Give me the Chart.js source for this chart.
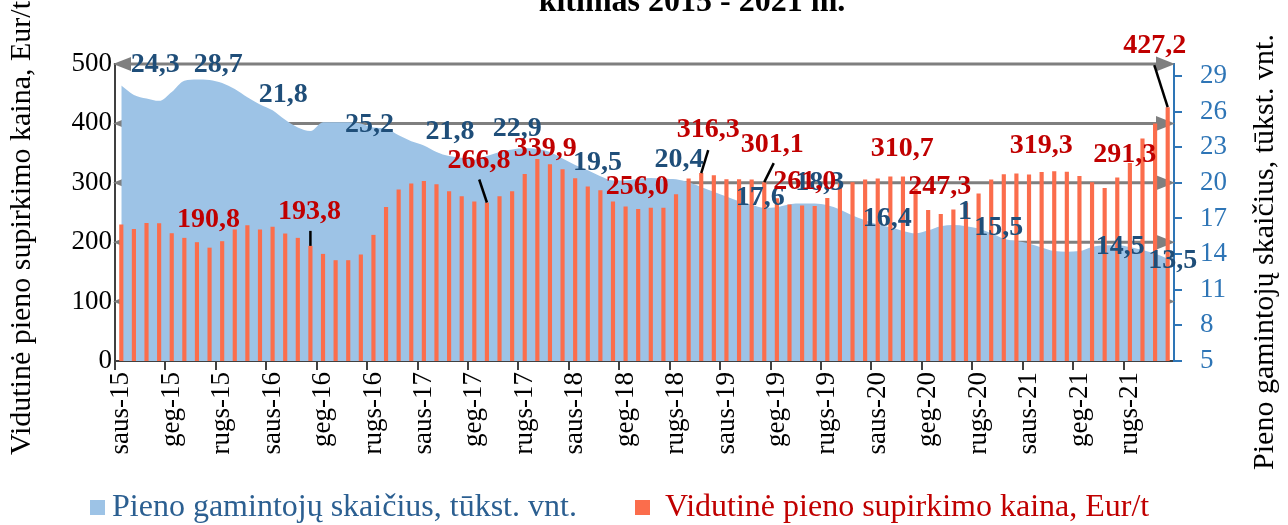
<!DOCTYPE html>
<html>
<head>
<meta charset="utf-8">
<script src="https://cdn.jsdelivr.net/npm/chart.js@4.4.0/dist/chart.umd.min.js"></script>
<style>
  html, body { margin: 0; padding: 0; background: #ffffff; }
</style>
</head>
<body>
<canvas id="chart" width="1288" height="525"></canvas>
<script>
// month names used on the category axis
const monthNames = ["saus", "vas", "kov", "bal", "geg", "birž", "liep", "rugp", "rugs", "spal", "lapkr", "gruod"];
const years = ["15", "16", "17", "18", "19", "20", "21"];
const categories = years.flatMap((y) => monthNames.map((m) => m + "-" + y));

// milk producers, thousand (right axis)
const producers = [
  28.2, 27.4, 27.1, 26.9, 27.65, 28.6, 28.7, 28.65, 28.4, 27.9, 27.2, 26.6,
  26.1, 25.3, 24.65, 24.35, 25.1, 25.1, 25.1, 25.0, 24.65, 24.55, 24.0, 23.5,
  23.15, 22.6, 22.25, 22.1, 21.95, 22.25, 22.6, 22.8, 22.9, 22.85, 22.6, 22.05,
  21.5, 21.05, 20.55, 20.2, 20.2, 20.35, 20.4, 20.35, 20.3, 20.05, 19.65, 19.25,
  18.85, 18.45, 18.15, 17.9, 17.95, 18.2, 18.25, 18.25, 18.1, 17.75, 17.25, 16.85,
  16.5, 16.25, 15.95, 15.75, 16.0, 16.35, 16.45, 16.35, 16.15, 15.75, 15.3, 15.1,
  14.9, 14.55, 14.25, 14.2, 14.25, 14.6, 14.75, 14.75, 14.6, 14.35, 14.05, 13.6
];

// average milk purchase price, Eur/t (left axis)
const prices = [
  229.8, 222.4, 232.5, 232.0, 215.1, 207.3, 200.0, 190.8, 201.7, 221.4, 228.6, 221.4,
  225.8, 214.6, 207.3, 193.8, 180.3, 169.7, 169.7, 179.3, 212.3, 259.4, 288.7, 298.8,
  303.2, 297.6, 285.9, 277.4, 268.5, 266.8, 277.4, 285.9, 315.0, 339.9, 331.3, 322.9,
  307.7, 293.8, 287.5, 268.5, 260.0, 256.0, 257.8, 257.8, 280.8, 307.2, 316.3, 312.8,
  306.0, 306.0, 305.5, 301.1, 274.0, 263.5, 261.8, 261.0, 274.6, 298.8, 301.0, 305.5,
  307.2, 310.7, 310.7, 290.0, 254.0, 247.3, 255.0, 267.0, 282.0, 305.5, 314.5, 315.6,
  314.0, 318.0, 319.3, 318.4, 311.6, 301.0, 291.3, 308.9, 333.5, 374.6, 399.8, 427.2
];

const rightTicks = [5, 8, 11, 14, 17, 20, 23, 26, 29];

const seriesNames = ["Pieno gamintojų skaičius, tūkst. vnt.", "Vidutinė pieno supirkimo kaina, Eur/t"];
const leftTitle = "Vidutinė pieno supirkimo kaina, Eur/t";
const rightTitle = "Pieno gamintojų skaičius, tūkst. vnt.";
const chartTitle = "kitimas 2015 - 2021 m.";

const FONT = "'Liberation Serif', 'Times New Roman', serif";
const areaColor = "#9dc3e6";
const barColor = "#fb6d4c";
const blueText = "#1f4e79";
const redText = "#c00000";
const axisBlue = "#2e75b6";
const legendBlue = "#2b5f91";

// value labels: [dataset, index, text, dx, dy, leader line]
const notes = [
  [0, 3, "24,3", -4, -36],
  [0, 8, "28,7", -4, -18],
  [0, 13, "21,8", -2, -25],
  [0, 20, "25,2", -4, -3],
  [0, 26, "21,8", 1, -24],
  [0, 31, "22,9", 5, -21],
  [0, 38, "19,5", -3, -14],
  [0, 44, "20,4", 3, -19],
  [0, 51, "17,6", -4, -10],
  [0, 55, "18,3", 5, -21],
  [0, 61, "16,4", -3, -9],
  [0, 67, "1", -1, -14],
  [0, 70, "15,5", -5, -11],
  [0, 79, "14,5", 3, 2],
  [0, 83, "13,5", 5, 2],
  [1, 7, "190,8", -1, -28],
  [1, 15, "193,8", -1, -34, [0, 0, 0, -15]],
  [1, 29, "266,8", -8, -42, [0, 0, -7.7, -23]],
  [1, 33, "339,9", 8, -10],
  [1, 41, "256,0", -1, -22],
  [1, 46, "316,3", 7, -43, [0, 0, 7, -23]],
  [1, 51, "301,1", 8, -37, [0, 0, 9.5, -19]],
  [1, 55, "261,0", -10, -24],
  [1, 61, "310,7", 12, -28],
  [1, 65, "247,3", -1, -27],
  [1, 74, "319,3", -13, -26],
  [1, 78, "291,3", 20, -33],
  [1, 83, "427,2", -13, -61, [0, 0, -13.4, -42]]
];

//gray grid lines with arrow heads on both ends
const arrowGrid = {
  id: "arrowGrid",
  beforeDatasetsDraw(chart) {
    const { ctx, chartArea: a, scales } = chart;
    ctx.save();
    ctx.strokeStyle = "#7f7f7f";
    ctx.fillStyle = "#7f7f7f";
    ctx.lineWidth = 3;
    scales.y.ticks.forEach((t) => {
      if (t.value === 0) return;
      const py = scales.y.getPixelForValue(t.value);
      ctx.beginPath();
      ctx.moveTo(a.left + 8, py);
      ctx.lineTo(a.right - 10, py);
      ctx.stroke();
      ctx.beginPath();
      ctx.moveTo(a.right + 1, py);
      ctx.lineTo(a.right - 18, py - 7.5);
      ctx.lineTo(a.right - 18, py + 7.5);
      ctx.closePath();
      ctx.fill();
      ctx.beginPath();
      ctx.moveTo(a.left - 2, py);
      ctx.lineTo(a.left + 16, py - 7);
      ctx.lineTo(a.left + 16, py + 7);
      ctx.closePath();
      ctx.fill();
    });
    ctx.restore();
  },
};

//value labels and leader lines
const valueNotes = {
  id: "valueNotes",
  afterDatasetsDraw(chart) {
    const { ctx } = chart;
    ctx.save();
    ctx.font = "bold 28px " + FONT;
    ctx.textAlign = "center";
    ctx.textBaseline = "middle";
    notes.forEach(([ds, i, text, dx, dy, line]) => {
      const el = chart.getDatasetMeta(ds).data[i];
      if (line) {
        ctx.strokeStyle = "#000";
        ctx.lineWidth = 2.5;
        ctx.beginPath();
        ctx.moveTo(el.x + line[0], el.y + line[1]);
        ctx.lineTo(el.x + line[2], el.y + line[3]);
        ctx.stroke();
      }
      ctx.fillStyle = ds === 0 ? blueText : redText;
      ctx.fillText(text, el.x + dx, el.y + dy);
    });
    ctx.restore();
  },
};

//axis titles, legend and the visible part of the chart title
const titles = {
  id: "titles",
  afterDraw(chart) {
    const { ctx } = chart;
    ctx.save();
    ctx.fillStyle = "#000";
    ctx.textAlign = "center";
    ctx.textBaseline = "middle";
    ctx.font = "30px " + FONT;
    ctx.translate(22, 228);
    ctx.rotate(-Math.PI / 2);
    ctx.fillText(leftTitle, 0, 0);
    ctx.restore();

    ctx.save();
    ctx.fillStyle = "#000";
    ctx.textAlign = "center";
    ctx.textBaseline = "middle";
    ctx.font = "30px " + FONT;
    ctx.translate(chart.width - 23, 252);
    ctx.rotate(-Math.PI / 2);
    ctx.fillText(rightTitle, 0, 0);
    ctx.restore();

    ctx.save();
    ctx.fillStyle = "#000";
    ctx.textAlign = "center";
    ctx.textBaseline = "alphabetic";
    ctx.font = "bold 32px " + FONT;
    ctx.fillText(chartTitle, 692, 11);
    ctx.restore();

    // legend
    const items = [
      { x: 90, box: areaColor, color: legendBlue, text: seriesNames[0] },
      { x: 635, box: barColor, color: redText, text: seriesNames[1] },
    ];
    ctx.save();
    ctx.font = "32px " + FONT;
    ctx.textAlign = "left";
    ctx.textBaseline = "middle";
    items.forEach((it) => {
      ctx.fillStyle = it.box;
      ctx.fillRect(it.x, 500, 15, 15);
      ctx.fillStyle = it.color;
      ctx.fillText(it.text, it.x + (it.x < 300 ? 22 : 30), 508);
    });
    ctx.restore();
  },
};

new Chart(document.getElementById("chart"), {
  type: "bar",
  plugins: [arrowGrid, valueNotes, titles],
  data: {
    labels: categories,
    datasets: [
      {
        type: "line",
        label: seriesNames[0],
        data: producers,
        yAxisID: "y2",
        fill: "start",
        backgroundColor: areaColor,
        borderColor: areaColor,
        borderWidth: 0,
        pointRadius: 0,
        tension: 0.4,
        cubicInterpolationMode: "monotone",
        order: 2,
      },
      {
        label: seriesNames[1],
        data: prices,
        yAxisID: "y",
        backgroundColor: barColor,
        borderWidth: 0,
        barPercentage: 0.33,
        categoryPercentage: 1,
        order: 1,
      },
    ],
  },
  options: {
    responsive: false,
    animation: false,
    layout: { padding: { top: 64, left: 0, right: 30, bottom: 64 } },
    plugins: {
      tooltip: { enabled: false },
      title: { display: false },
      legend: { display: false },
    },
    scales: {
      x: {
        offset: true,
        grid: {
          offset: true,
          drawOnChartArea: false,
          tickLength: 9,
          lineWidth: 2,
          color: (c) => (c.index % 4 === 0 ? "#404040" : "rgba(0,0,0,0)"),
        },
        border: { color: "#404040", width: 2 },
        ticks: {
          autoSkip: false,
          minRotation: 90,
          maxRotation: 90,
          padding: 2,
          color: "#000",
          font: { family: FONT, size: 27 },
          callback: function (value, index) {
            return index % 4 === 0 ? this.getLabelForValue(value) : "";
          },
        },
        afterFit: (s) => {
          s.height = 100;
        },
      },
      y: {
        position: "left",
        min: 0,
        max: 500,
        grid: { display: false, drawTicks: false },
        border: { color: "#404040", width: 2 },
        ticks: {
          stepSize: 100,
          padding: 3,
          color: "#000",
          font: { family: FONT, size: 27 },
        },
        afterFit: (s) => {
          s.width = 115;
        },
      },
      y2: {
        position: "right",
        min: 5,
        max: 30,
        afterBuildTicks: (s) => {
          s.ticks = rightTicks.map((v) => ({ value: v }));
        },
        grid: {
          drawOnChartArea: false,
          tickLength: 8,
          lineWidth: 2,
          color: axisBlue,
        },
        border: { color: axisBlue, width: 2 },
        ticks: {
          padding: 18,
          color: axisBlue,
          font: { family: FONT, size: 27 },
        },
        afterFit: (s) => {
          s.width = 84;
        },
      },
    },
  },
});
</script>
</body>
</html>
